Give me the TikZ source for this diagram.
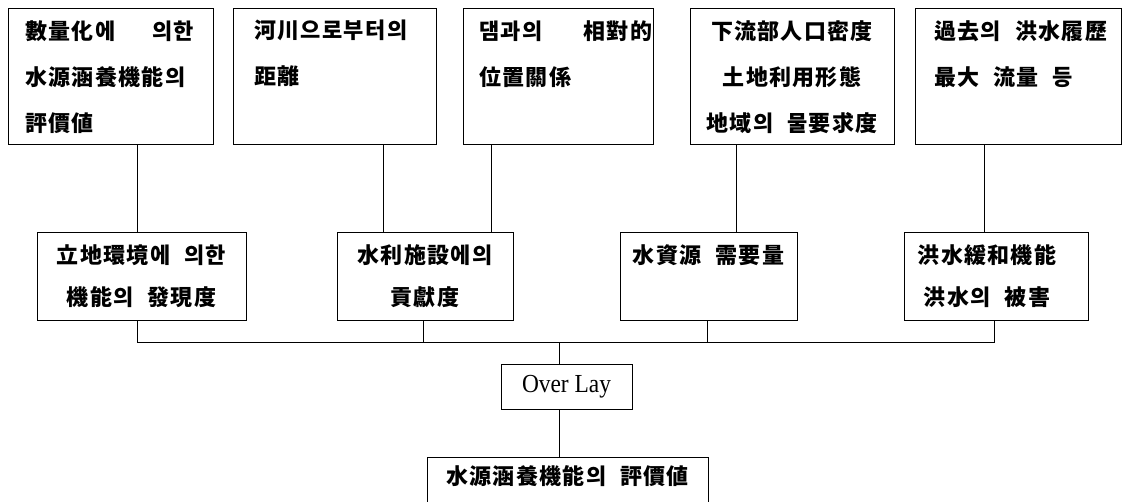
\documentclass[tikz,border=0pt]{standalone}
\usepackage{fontspec}
\setmainfont{Liberation Serif}
\newfontfamily\kr{Noto Sans CJK KR}[LetterSpace=6,WordSpace=2.2]
\begin{document}
\begin{tikzpicture}[x=1pt,y=-1pt,
  box/.style={draw, line width=0.9pt, rectangle, inner sep=0pt},
  conn/.style={draw, line width=0.9pt},
  krt/.style={font=\kr\bfseries\fontsize{22}{46}\selectfont, inner sep=0pt},
  krm/.style={font=\kr\bfseries\fontsize{22}{42}\selectfont, inner sep=0pt, align=center, anchor=north}]
\useasboundingbox (0,0) rectangle (1123,501);
% top boxes
\node[box, minimum width=205, minimum height=136] (t1) at (110.5,76) {};
\node[box, minimum width=203, minimum height=136] (t2) at (334.5,76) {};
\node[box, minimum width=190, minimum height=136] (t3) at (558,76) {};
\node[box, minimum width=204, minimum height=136] (t4) at (792,76) {};
\node[box, minimum width=206, minimum height=136] (t5) at (1018,76) {};
\node[krt, anchor=north west, text width=169, align=left] (t1x) at (25,20) {數量化에\hfill 의한\\水源涵養機能의\\評價値};
\node[krt, anchor=north west, align=left] (t2x) at (254,20) {河川으로부터의\\距離};
\node[krt, anchor=north west, text width=173, align=left] (t3x) at (479,20) {댐과의\hfill 相對的\\位置關係};
\node[krt, anchor=north, align=center] (t4x) at (792,20) {下流部人口密度\\土地利用形態\\地域의 물要求度};
\node[krt, anchor=north west, align=left] (t5x) at (934,20) {過去의 洪水履歷\\最大 流量 등};
% middle boxes
\node[box, minimum width=209, minimum height=88] (a) at (141.5,276) {};
\node[box, minimum width=176, minimum height=88] (b) at (425,276) {};
\node[box, minimum width=177, minimum height=88] (c) at (708.5,276) {};
\node[box, minimum width=184, minimum height=88] (d) at (996,276) {};
\node[krm] (ax) at (141.5,244) {立地環境에 의한\\機能의 發現度};
\node[krm] (bx) at (425,244) {水利施設에의\\貢獻度};
\node[krm] (cx) at (708.5,244) {水資源 需要量};
\node[krm] (dx) at (987,244) {洪水緩和機能\\洪水의 被害};
% overlay and result
\node[box, minimum width=131, minimum height=45, font=\fontsize{26}{26}\selectfont\addfontfeature{FakeStretch=0.9}] (ol) at (566.5,386.5) {Over Lay};
\node[box, minimum width=281, minimum height=80] (f) at (567.5,497) {};
\node[krm] (fx) at (567.5,465) {水源涵養機能의 評價値};
% connectors
\draw[conn] ([xshift=26.5pt]t1.south) -- ([xshift=-4.5pt]a.north);
\draw[conn] ([xshift=48.5pt]t2.south) -- ([xshift=-42pt]b.north);
\draw[conn] ([xshift=-67pt]t3.south) -- ([xshift=66pt]b.north);
\draw[conn] ([xshift=-56pt]t4.south) -- ([xshift=27.5pt]c.north);
\draw[conn] ([xshift=-34pt]t5.south) -- ([xshift=-12pt]d.north);
\coordinate (bus) at (559,342.5);
\coordinate (ab) at ([xshift=-4pt]a.south);
\coordinate (bb) at ([xshift=-2pt]b.south);
\coordinate (cb) at ([xshift=-1.5pt]c.south);
\coordinate (db) at ([xshift=-2pt]d.south);
\draw[conn] (ab) -- (ab |- bus);
\draw[conn] (bb) -- (bb |- bus);
\draw[conn] (cb) -- (cb |- bus);
\draw[conn] (db) -- (db |- bus);
\draw[conn] (ab |- bus) -- (db |- bus);
\draw[conn] (bus) -- (bus |- ol.north);
\draw[conn] ([xshift=-7.5pt]ol.south) -- ([xshift=-8.5pt]f.north);
\end{tikzpicture}
\end{document}
